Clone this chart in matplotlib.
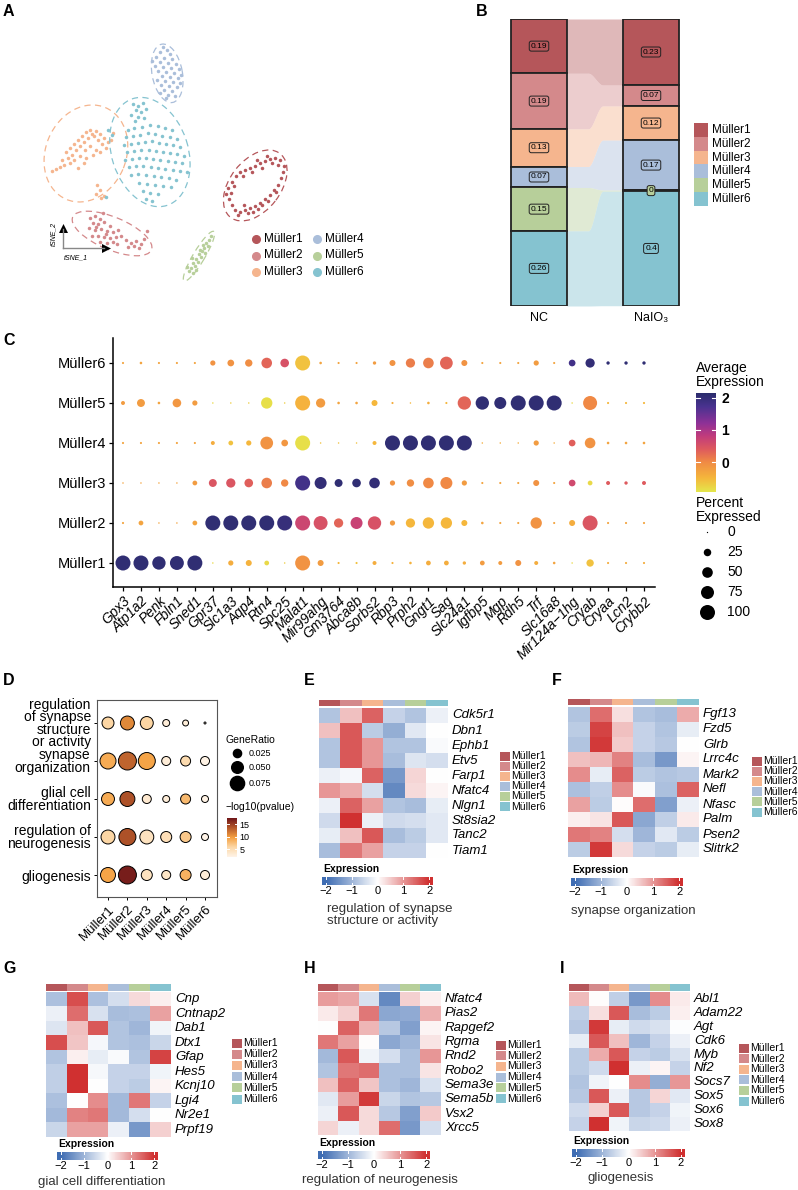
import numpy as np
import matplotlib
matplotlib.use('Agg')
import matplotlib.pyplot as plt
from matplotlib.colors import LinearSegmentedColormap, ListedColormap
from matplotlib.patches import Rectangle, Ellipse

plt.rcParams['font.family'] = ['Liberation Sans', 'DejaVu Sans']

# ---------------- data ----------------
groups = ['Müller1', 'Müller2', 'Müller3', 'Müller4', 'Müller5', 'Müller6']
group_colors = ['#B5565A', '#D4898B', '#F5B58E', '#AABEDA', '#B7CF9A', '#85C3D0']

# A: tSNE embedding (tSNE_1, tSNE_2 in picture units)
m1_pts = [(236,176),(240,172),(245,170),(250,168),(255,166),(260,163),(265,161),(270,159),(275,158),(280,160),
          (278,165),(272,163),(262,168),(252,172),(243,176),(232,182),(228,188),(226,194),(229,199),(232,205),
          (235,210),(240,212),(245,210),(250,208),(255,206),(260,203),(265,199),(270,195),(274,190),(278,185),
          (281,178),(283,172),(268,201),(258,209),(248,213),(238,215),(262,205),(276,192),(231,193),(284,166),
          (257,160),(267,156),(244,205),(253,212),(234,186)]
m2_pts = [(90,218),(95,216),(100,219),(93,223),(98,224),(104,222),(110,226),(89,228),(95,230),(101,229),
          (107,231),(113,232),(118,230),(92,236),(98,236),(104,237),(110,238),(116,237),(121,236),(100,242),
          (107,243),(113,242),(126,240),(131,243),(136,241),(141,244),(134,246),(128,247),(139,248),(144,239),
          (147,231),(103,213),(117,244),(96,227),(106,234)]
m3_pts = [(52,171),(56,169),(60,167),(64,165),(62,160),(68,158),(66,152),(72,155),(70,148),(76,150),
          (74,144),(80,146),(78,140),(84,142),(82,136),(88,138),(86,132),(92,134),(90,130),(96,131),
          (94,136),(100,134),(98,140),(104,138),(102,144),(108,142),(106,148),(111,140),(85,150),(90,146),
          (96,150),(74,160),(80,156),(86,158),(70,163),(78,168),(84,163),(93,155),(100,152),(113,133),
          (97,185),(100,190),(96,194),(101,198),(104,196)]
m4_pts = [(163,47),(167,50),(160,52),(170,54),(156,57),(164,58),(172,59),(152,61),(160,62),(168,63),
          (176,64),(155,66),(163,67),(171,68),(179,69),(158,71),(166,72),(174,73),(181,75),(162,76),
          (170,77),(178,78),(157,80),(165,81),(173,82),(180,83),(161,85),(169,86),(177,87),(164,90),
          (172,91),(160,93),(168,95),(175,96),(166,98)]
m5_pts = [(211,236),(209,240),(206,243),(208,246),(204,248),(202,251),(205,253),(199,254),(201,257),(196,259),
          (198,262),(193,263),(195,266),(191,268),(196,270),(189,271),(193,273),(200,250),(203,245),(192,258),
          (187,267)]
m6_pts = [(133,104),(138,106),(143,103),(136,110),(141,112),(146,109),(131,115),(138,117),(144,118),(135,121),
          (128,130),(134,128),(142,127),(150,125),(158,126),(165,128),(172,130),(126,137),(133,136),(140,135),
          (148,133),(155,134),(162,136),(170,137),(177,139),(124,145),(131,144),(138,143),(145,142),(152,141),
          (159,143),(166,144),(173,145),(180,147),(127,152),(134,151),(141,150),(149,150),(156,151),(163,152),
          (170,153),(177,154),(184,156),(125,160),(132,159),(139,158),(146,158),(153,159),(160,160),(168,161),
          (175,162),(182,163),(129,167),(136,166),(143,166),(151,167),(158,168),(165,169),(173,170),(180,171),
          (187,172),(131,175),(138,174),(146,175),(154,176),(161,177),(169,178),(176,180),(139,183),(147,184),
          (155,185),(163,186),(171,187),(143,191),(150,193),(158,194),(146,199),(152,201),(108,130),(112,135),
          (106,197)]
tsne_pts = [m1_pts, m2_pts, m3_pts, m4_pts, m5_pts, m6_pts]

# B: cell proportions
conditions = ['NC', 'NaIO₃']
prop_nc = [0.189, 0.194, 0.131, 0.073, 0.151, 0.262]
prop_naio3 = [0.230, 0.073, 0.119, 0.174, 0.004, 0.399]

# C: dot plot
dot_genes = ['Gpx3', 'Atp1a2', 'Penk', 'Fbln1', 'Sned1', 'Gpr37', 'Slc1a3', 'Aqp4', 'Rtn4', 'Spc25',
             'Malat1', 'Mir99ahg', 'Gm3764', 'Abca8b', 'Sorbs2', 'Rbp3', 'Prph2', 'Gngt1', 'Sag', 'Slc24a1',
             'Igfbp5', 'Mgp', 'Rdh5', 'Trf', 'Slc16a8', 'Mir124a−1hg', 'Cryab', 'Cryaa', 'Lcn2', 'Crybb2']
pct_expr = [
    [100, 100, 79, 86, 100, 1, 12, 16, 10, 1, 100, 16, 2, 2, 7, 2, 3, 10, 10, 5, 10, 7, 16, 7, 3, 1, 24, 2, 2, 2],
    [2, 10, 1, 1, 10, 100, 100, 100, 100, 100, 100, 86, 38, 64, 79, 12, 38, 57, 57, 16, 3, 2, 2, 57, 2, 16, 100, 2, 2, 2],
    [1, 1, 1, 1, 10, 28, 38, 33, 50, 24, 100, 64, 28, 33, 50, 12, 24, 50, 64, 12, 2, 2, 2, 16, 2, 20, 10, 7, 5, 7],
    [2, 2, 2, 2, 2, 7, 10, 12, 72, 20, 100, 1, 1, 1, 7, 100, 100, 100, 100, 100, 1, 1, 1, 12, 1, 20, 50, 3, 3, 3],
    [7, 28, 3, 33, 12, 1, 1, 1, 57, 1, 100, 38, 3, 3, 16, 2, 1, 3, 2, 79, 79, 64, 100, 100, 100, 1, 87, 2, 2, 2],
    [2, 3, 2, 2, 2, 12, 20, 24, 50, 33, 100, 3, 2, 2, 5, 16, 38, 50, 72, 16, 2, 2, 2, 12, 2, 20, 38, 5, 5, 5],
]
avg_expr = [
    [2.04, 2.04, 2.04, 2.04, 2.04, -0.8, -0.4, -0.45, -0.8, -0.7, -0.1, -0.2, -0.5, -0.6, -0.4,
     -0.45, -0.45, -0.4, -0.4, -0.4, -0.2, -0.2, -0.1, -0.4, -0.3, -0.8, -0.6, -0.4, -0.4, -0.4],
    [-0.3, -0.3, -0.3, -0.3, -0.3, 2.04, 2.04, 2.04, 2.04, 1.95, 0.65, 0.5, 0.3, 0.7, 0.5,
     -0.2, -0.5, -0.5, -0.5, -0.5, -0.3, -0.3, -0.3, -0.1, -0.3, -0.4, 0.45, -0.3, -0.3, -0.3],
    [-0.3, -0.3, -0.3, -0.3, -0.2, 0.45, 0.45, 0.35, 0.1, 0.0, 1.8, 2.0, 2.04, 2.04, 2.0,
     -0.1, -0.05, 0.0, 0.0, -0.2, -0.3, -0.3, -0.3, -0.1, -0.3, 0.6, -0.8, 0.4, 0.4, 0.4],
    [-0.3, -0.3, -0.3, -0.3, -0.3, -0.4, -0.6, -0.5, -0.1, -0.15, -0.85, -0.6, -0.6, -0.6, -0.5,
     2.04, 2.04, 2.04, 2.04, 2.04, -0.4, -0.4, -0.4, -0.2, -0.4, 0.35, -0.1, -0.3, -0.3, -0.3],
    [-0.2, -0.2, -0.3, -0.15, -0.2, -0.8, -0.7, -0.7, -0.85, -0.7, -0.45, -0.2, -0.3, -0.3, -0.5,
     -0.4, -0.5, -0.4, -0.5, 0.3, 2.04, 2.04, 2.04, 2.04, 2.04, -0.8, 0.0, -0.5, -0.5, -0.5],
    [-0.3, -0.3, -0.3, -0.3, -0.3, -0.1, -0.1, -0.05, 0.3, 0.5, -0.6, -0.3, -0.3, -0.3, -0.2,
     -0.1, 0.1, 0.1, 0.3, -0.1, -0.3, -0.3, -0.3, -0.2, -0.3, 1.8, 2.0, 2.04, 2.04, 2.04],
]
pct_breaks = [0, 25, 50, 75, 100]

# D: GO enrichment
go_terms = ['regulation\nof synapse\nstructure\nor activity', 'synapse\norganization',
            'glial cell\ndifferentiation', 'regulation of\nneurogenesis', 'gliogenesis']
gene_ratio = [
    [0.053, 0.072, 0.062, 0.018, 0.013, 0.0015],
    [0.095, 0.120, 0.107, 0.030, 0.037, 0.030],
    [0.062, 0.083, 0.030, 0.018, 0.037, 0.018],
    [0.072, 0.107, 0.072, 0.045, 0.045, 0.018],
    [0.083, 0.120, 0.045, 0.030, 0.045, 0.030],
]
neg_log_p = [
    [6, 11, 6, 3, 3, 2.5],
    [9, 13, 9.5, 3, 5.5, 2.2],
    [9, 14, 3.5, 3, 8, 2.2],
    [6, 14, 4.5, 5, 7, 2],
    [9.5, 17, 4.5, 4, 8.5, 3],
]
ratio_breaks = [0.025, 0.050, 0.075]

# E-I: scaled expression heatmaps
E_genes = ['Cdk5r1', 'Dbn1', 'Ephb1', 'Etv5', 'Farp1', 'Nfatc4', 'Nlgn1', 'St8sia2', 'Tanc2', 'Tiam1']
E_vals = [[-0.8, 0.6, 1.5, -0.6, -0.8, -0.2], [0.6, 1.6, -0.7, -1.1, -0.3, 0.0],
          [-0.8, 1.6, 1.0, -0.8, -0.8, -0.05], [-0.8, 1.6, 1.0, -0.9, -0.35, -0.45],
          [-0.2, -0.1, 1.5, -1.4, 0.4, 0.0], [1.0, 0.8, -0.45, -1.6, 0.35, 0.1],
          [-0.2, 1.5, 0.9, -0.8, -0.9, -0.25], [-0.5, 2.0, -0.2, -0.5, -0.45, -0.3],
          [-0.25, 0.6, 1.6, -0.9, -0.7, -0.3], [-0.9, 1.3, 0.9, -0.6, -0.6, 0.0]]
F_genes = ['Fgf13', 'Fzd5', 'Glrb', 'Lrrc4c', 'Mark2', 'Nefl', 'Nfasc', 'Palm', 'Psen2', 'Slitrk2']
F_vals = [[-0.8, 1.4, 0.3, -0.8, -0.9, 0.8], [-0.7, 1.8, 0.6, -0.6, -0.8, -0.25],
          [-0.8, 1.9, 0.5, -0.6, -0.75, 0.0], [0.6, 0.7, 1.2, -0.9, -1.4, 0.1],
          [1.1, -0.25, 1.5, -0.7, -0.8, -0.75], [-0.85, -0.65, 1.1, -0.05, -0.85, 1.5],
          [0.9, -0.7, 0.02, 1.4, -1.3, -0.2], [0.15, 0.25, 1.6, -1.2, -0.65, 0.2],
          [1.3, 1.2, -0.45, -1.0, -0.3, -0.7], [-0.7, 1.9, 0.35, -0.6, -0.7, -0.25]]
G_genes = ['Cnp', 'Cntnap2', 'Dab1', 'Dtx1', 'Gfap', 'Hes5', 'Kcnj10', 'Lgi4', 'Nr2e1', 'Prpf19']
G_vals = [[-0.85, 1.7, -0.85, -0.45, 0.35, 0.15], [-0.2, 1.4, -0.4, -0.9, -0.85, 0.9],
          [-0.35, 0.6, 1.6, -0.8, -1.0, -0.15], [1.7, 0.55, -0.1, -0.8, -0.85, -0.55],
          [-0.8, 0.15, -0.25, -0.05, -0.8, 1.8], [-0.65, 2.0, -0.08, -0.6, -0.6, -0.15],
          [-0.65, 2.0, 0.0, -0.6, -0.7, 0.1], [-0.85, 0.0, 1.1, -0.95, 1.3, -0.6],
          [-0.95, 1.2, 1.3, -0.95, -0.45, 0.0], [-0.55, 0.9, 0.9, -0.2, -1.4, 0.45]]
H_genes = ['Nfatc4', 'Pias2', 'Rapgef2', 'Rgma', 'Rnd2', 'Robo2', 'Sema3e', 'Sema5b', 'Vsx2', 'Xrcc5']
H_vals = [[0.95, 0.85, -0.4, -1.6, 0.45, 0.15], [0.2, 0.45, 1.3, -1.2, -1.15, 0.75],
          [0.0, 1.5, 0.7, -0.75, -1.3, 0.1], [1.3, 0.9, 0.02, -1.2, -1.0, 0.25],
          [-0.95, 1.6, -0.15, -0.45, -0.85, 1.0], [-0.8, 1.3, 1.4, -0.85, -0.85, 0.25],
          [0.6, 1.5, 0.55, -0.85, -1.0, -0.4], [-0.3, 0.95, 1.9, -0.55, -0.8, -0.75],
          [-0.2, 1.6, 0.35, -0.75, -1.3, 0.5], [0.4, -0.2, 0.35, 1.4, -1.4, -0.45]]
I_genes = ['Abl1', 'Adam22', 'Agt', 'Cdk6', 'Myb', 'Nf2', 'Socs7', 'Sox5', 'Sox6', 'Sox8']
I_vals = [[0.65, 0.02, -0.65, -1.4, 1.1, 0.2], [-0.65, 0.3, 1.6, -0.9, -0.7, 0.15],
          [-0.75, 1.9, -0.25, -0.5, -0.4, -0.03], [-0.25, 1.6, 0.6, -1.0, -0.6, -0.2],
          [-0.7, 0.8, 1.6, -0.6, -0.7, -0.4], [-0.7, -0.5, 2.0, -0.2, 0.1, -0.6],
          [-0.8, -0.15, 0.0, 1.1, -1.1, 1.0], [-0.75, 1.6, -0.2, -0.75, 0.4, -0.3],
          [-0.5, 0.45, 1.6, -0.75, -0.6, -0.15], [-0.6, 2.0, -0.15, -0.55, -0.5, -0.2]]
heat_breaks = [-2, -1, 0, 1, 2]

# ---------------- figure helpers ----------------
W, H = 798, 1190
fig = plt.figure(figsize=(W / 100, H / 100), dpi=100)


def px_axes(x0, y0, x1, y1):
    return fig.add_axes([x0 / W, 1 - y1 / H, (x1 - x0) / W, (y1 - y0) / H])


def ftext(x, y, s, **kw):
    return fig.text(x / W, 1 - y / H, s, **kw)


def frect(x, y, w, h, color, **kw):
    fig.add_artist(Rectangle((x / W, 1 - (y + h) / H), w / W, h / H,
                             transform=fig.transFigure, facecolor=color, **kw))


def size_px(d):
    return (np.asarray(d, dtype=float) * 0.72) ** 2


def panel_label(x, y, s):
    ftext(x, y, s, fontsize=11.5, fontweight='bold', va='top', ha='left')


# ---------------- A: tSNE ----------------
axA = px_axes(30, 20, 300, 290)
for k, pts in enumerate(tsne_pts):
    p = np.array(pts, dtype=float)
    axA.scatter(p[:, 0], p[:, 1], s=size_px(3.5), color=group_colors[k], lw=0)
    mu = p.mean(0)
    cov = np.cov(p.T)
    vals, vecs = np.linalg.eigh(cov)
    inv = np.linalg.inv(cov)
    dm = np.sqrt(np.einsum('ij,jk,ik->i', p - mu, inv, p - mu))
    r = np.percentile(dm, 95) * 1.1
    ang = np.degrees(np.arctan2(vecs[1, 1], vecs[0, 1]))
    axA.add_patch(Ellipse(mu, 2 * r * np.sqrt(vals[1]), 2 * r * np.sqrt(vals[0]), angle=ang,
                          fill=False, ec=group_colors[k], lw=0.9, ls=(0, (5, 3.5))))
axA.set_xlim(30, 300)
axA.set_ylim(290, 20)
axA.axis('off')
# tSNE axis arrows
axA.plot([63, 63], [248, 229], color='#888888', lw=1)
axA.plot([63, 104], [248, 248], color='#888888', lw=1)
axA.scatter([63], [228], marker='^', s=size_px(9), color='black', lw=0)
axA.scatter([106], [248], marker='>', s=size_px(9), color='black', lw=0)
axA.text(57, 246, 'tSNE_2', rotation=90, fontsize=5, fontstyle='italic', ha='right', va='bottom')
axA.text(64, 254, 'tSNE_1', fontsize=5, fontstyle='italic', ha='left', va='top')
for k, g in enumerate(groups):
    cx = 256 if k < 3 else 317
    cy = 239 + 16.5 * (k % 3)
    fig.add_artist(plt.Line2D([cx / W], [1 - cy / H], marker='o', ms=5.5, color=group_colors[k],
                              ls='none', transform=fig.transFigure))
    ftext(cx + 8, cy, g, fontsize=8.5, va='center', ha='left')
panel_label(3, 4, 'A')

# ---------------- B: proportions ----------------
axB = px_axes(505, 19, 685, 306)
bw = 0.5
xs = np.linspace(1 + bw / 2, 2 - bw / 2, 200)
t = np.clip((xs - 1.44) / 0.13, 0, 1)
s_curve = t * t * (3 - 2 * t)
topL = 1 - np.concatenate([[0], np.cumsum(prop_nc)])
topR = 1 - np.concatenate([[0], np.cumsum(prop_naio3)])
for k in range(6):
    up = topL[k] + (topR[k] - topL[k]) * s_curve
    lo = topL[k + 1] + (topR[k + 1] - topL[k + 1]) * s_curve
    axB.fill_between(xs, lo, up, color=group_colors[k], alpha=0.42, lw=0)
for xi, props, tops in [(1, prop_nc, topL), (2, prop_naio3, topR)]:
    for k in range(6):
        axB.add_patch(Rectangle((xi - bw / 2, tops[k + 1]), bw, props[k], facecolor=group_colors[k],
                                edgecolor='#222222', lw=1.3))
    for k in range(6):
        lab = f"{round(props[k], 2):g}"
        axB.text(xi, (tops[k] + tops[k + 1]) / 2, lab, fontsize=6, ha='center', va='center',
                 bbox=dict(boxstyle='round,pad=0.18,rounding_size=0.25', fc=group_colors[k], ec='#222222', lw=0.7))
axB.set_xlim(1 - 34 / 112, 2 + 34 / 112)
axB.set_ylim(0, 1)
axB.axis('off')
for xi, c in zip([539, 651], conditions):
    ftext(xi, 318, c, fontsize=9, ha='center', va='center')
for k, g in enumerate(groups):
    frect(694, 123 + 13.8 * k, 14, 13.8, group_colors[k], lw=0)
    ftext(712, 123 + 13.8 * k + 7, g, fontsize=8.5, va='center', ha='left')
panel_label(476, 4, 'B')

# ---------------- C: dot plot ----------------
dot_cmap = LinearSegmentedColormap.from_list('dot', [
    (0.0, '#E4E74C'), (0.14, '#F5B63C'), (0.30, '#F08A45'), (0.43, '#DE5A5E'),
    (0.56, '#C13C7C'), (0.69, '#8E3197'), (0.854, '#4A3390'), (1.0, '#282C6A')])
vmin_c, vmax_c = -0.93, 2.15
axC = px_axes(113, 338, 655, 587)
pct = np.array(pct_expr, dtype=float)
av = np.array(avg_expr, dtype=float)
for i in range(6):
    d = np.maximum(15 * np.sqrt(pct[i] / 100), 1.3)
    axC.scatter(np.arange(1, 31), np.full(30, i + 1), s=size_px(d), c=av[i], cmap=dot_cmap,
                vmin=vmin_c, vmax=vmax_c, lw=0)
axC.set_xlim(1 - 10 / 17.966, 30 + 11 / 17.966)
axC.set_ylim(1 - 24 / 40, 6 + 25 / 40)
axC.set_xticks(np.arange(1, 31))
axC.set_xticklabels(dot_genes, rotation=45, ha='right', rotation_mode='anchor', fontsize=10, fontstyle='italic')
axC.set_yticks(np.arange(1, 7))
axC.set_yticklabels(groups, fontsize=10.5)
for sp in ['top', 'right']:
    axC.spines[sp].set_visible(False)
for sp in ['left', 'bottom']:
    axC.spines[sp].set_linewidth(1.1)
axC.tick_params(length=3, width=0.9, pad=2)
panel_label(3, 333, 'C')
# colour legend
ftext(696, 375, 'Average\nExpression', fontsize=10, va='center', ha='left', linespacing=0.95)
cbC = px_axes(696, 393, 716, 492)
cbC.imshow(np.linspace(vmin_c, vmax_c, 256)[:, None], cmap=dot_cmap, aspect='auto', origin='lower',
           extent=[0, 1, vmin_c, vmax_c], vmin=vmin_c, vmax=vmax_c)
for v in [0, 1, 2]:
    cbC.plot([0, 0.2], [v, v], color='white', lw=0.8)
    cbC.plot([0.8, 1], [v, v], color='white', lw=0.8)
cbC.set_xlim(0, 1)
cbC.set_ylim(vmin_c, vmax_c)
cbC.set_xticks([])
cbC.yaxis.tick_right()
cbC.set_yticks([0, 1, 2])
cbC.set_yticklabels(['0', '1', '2'], fontsize=10, fontweight='bold')
cbC.tick_params(length=0, pad=4)
for sp in cbC.spines.values():
    sp.set_visible(False)
ftext(696, 510, 'Percent\nExpressed', fontsize=10, va='center', ha='left', linespacing=0.95)
for k, b in enumerate(pct_breaks):
    yy = 532 + 20 * k
    d = max(15 * np.sqrt(b / 100), 1.3)
    fig.add_artist(plt.Line2D([707 / W], [1 - yy / H], marker='o', ms=d * 0.72, color='black', ls='none',
                              mec='none', transform=fig.transFigure))
    ftext(727, yy, str(b), fontsize=10, va='center', ha='left')

# ---------------- D: GO dot plot ----------------
go_cmap = LinearSegmentedColormap.from_list('go', ['#FFF4E8', '#FCD8A8', '#F5A040', '#B5582A', '#6E1519'])
vmin_d, vmax_d = 2, 17.5
axD = px_axes(97, 700, 217, 897)
gr = np.array(gene_ratio)
lp = np.array(neg_log_p)
for r in range(5):
    d = np.maximum(52 * np.sqrt(gr[r]), 2)
    axD.scatter(np.arange(1, 7), np.full(6, 5 - r), s=size_px(d), c=lp[r], cmap=go_cmap,
                vmin=vmin_d, vmax=vmax_d, edgecolors='black', linewidths=0.7, zorder=3)
axD.set_xlim(1 - 11 / 19.4, 6 + 12 / 19.4)
axD.set_ylim(1 - 22 / 38, 5 + 23 / 38)
axD.set_yticks([5, 4, 3, 2, 1])
axD.set_yticklabels(go_terms, fontsize=10, linespacing=0.85)
axD.set_xticks(np.arange(1, 7))
axD.set_xticklabels(groups, rotation=45, ha='right', rotation_mode='anchor', fontsize=9.5)
for sp in axD.spines.values():
    sp.set_color('#555555')
    sp.set_linewidth(0.8)
axD.tick_params(length=2.5, width=0.7, pad=2)
panel_label(3, 673, 'D')
ftext(226, 740, 'GeneRatio', fontsize=7.5, va='center', ha='left')
for k, b in enumerate(ratio_breaks):
    yy = [753, 767, 783][k]
    fig.add_artist(plt.Line2D([237 / W], [1 - yy / H], marker='o', ms=52 * np.sqrt(b) * 0.72, color='black',
                              ls='none', transform=fig.transFigure))
    ftext(249, yy, f"{b:.3f}", fontsize=6.5, va='center', ha='left')
ftext(226, 807, '−log10(pvalue)', fontsize=7.5, va='center', ha='left')
cbD = px_axes(227, 818, 237, 857)
cbD.imshow(np.linspace(vmin_d, vmax_d, 256)[:, None], cmap=go_cmap, aspect='auto', origin='lower',
           extent=[0, 1, vmin_d, vmax_d], vmin=vmin_d, vmax=vmax_d)
for v in [5, 10, 15]:
    cbD.plot([0, 0.2], [v, v], color='white', lw=0.7)
    cbD.plot([0.8, 1], [v, v], color='white', lw=0.7)
cbD.set_xlim(0, 1)
cbD.set_ylim(vmin_d, vmax_d)
cbD.set_xticks([])
cbD.yaxis.tick_right()
cbD.set_yticks([5, 10, 15])
cbD.set_yticklabels(['5', '10', '15'], fontsize=6.5)
cbD.tick_params(length=0, pad=2)
for sp in cbD.spines.values():
    sp.set_visible(False)

# ---------------- E-I: heatmaps ----------------
heat_cmap = LinearSegmentedColormap.from_list('heat', ['#3F6DB3', '#FFFFFF', '#D03030'])


def heatmap(label, lab_xy, x0, x1, ytop, row_h, vals, genes, leg_x, leg_y, leg_dy,
            cb_x0, cb_x1, cb_y, title, title_x, title_y):
    ann = px_axes(x0, ytop - 8, x1, ytop - 1.5)
    ann.imshow(np.arange(6)[None, :], cmap=ListedColormap(group_colors), aspect='auto', interpolation='nearest')
    ann.axis('off')
    hm = px_axes(x0, ytop, x1, ytop + 10 * row_h)
    hm.imshow(np.array(vals), cmap=heat_cmap, vmin=-2, vmax=2, aspect='auto', interpolation='nearest')
    hm.axis('off')
    for i, g in enumerate(genes):
        ftext(x1 + 4, ytop + (i + 0.5) * row_h, g, fontsize=9.5, fontstyle='italic', va='center', ha='left')
    for k, g in enumerate(groups):
        yy = leg_y + k * leg_dy
        frect(leg_x, yy - 4.5, 10, 9, group_colors[k], lw=0)
        ftext(leg_x + 11, yy, g, fontsize=7.5, va='center', ha='left')
    ftext(cb_x0 + 1, cb_y - 8, 'Expression', fontsize=7.5, fontweight='bold', va='center', ha='left')
    cb = px_axes(cb_x0, cb_y, cb_x1, cb_y + 8)
    cb.imshow(np.linspace(-2.15, 2.15, 256)[None, :], cmap=heat_cmap, vmin=-2, vmax=2, aspect='auto',
              extent=[-2.15, 2.15, 0, 1])
    for v in heat_breaks:
        cb.plot([v, v], [0, 0.22], color='white', lw=0.7)
        cb.plot([v, v], [0.78, 1], color='white', lw=0.7)
    cb.set_xlim(-2.15, 2.15)
    cb.set_ylim(0, 1)
    cb.set_yticks([])
    cb.set_xticks(heat_breaks)
    cb.set_xticklabels([f"{v}".replace('-', '−') for v in heat_breaks], fontsize=8)
    cb.tick_params(length=0, pad=1)
    for sp in cb.spines.values():
        sp.set_visible(False)
    ftext(title_x, title_y, title, fontsize=9.5, va='center', ha='left', color='#333333', linespacing=1.05)
    panel_label(lab_xy[0], lab_xy[1], label)


heatmap('E', (304, 673), 319, 448, 708, 15, E_vals, E_genes, 500, 756, 10.1,
        322, 433, 877, 'regulation of synapse\nstructure or activity', 327, 915)
heatmap('F', (552, 673), 568, 699, 707, 15, F_vals, F_genes, 752, 761, 10.2,
        571, 683, 878, 'synapse organization', 571, 911)
heatmap('G', (3, 961), 46, 171, 992, 14.5, G_vals, G_genes, 232, 1043, 11.2,
        57, 158, 1152, 'gial cell differentiation', 38, 1182)
heatmap('H', (304, 961), 318, 441, 992, 14.3, H_vals, H_genes, 496, 1045, 10.7,
        318, 430, 1151, 'regulation of neurogenesis', 302, 1180)
heatmap('I', (560, 961), 569, 690, 992, 13.9, I_vals, I_genes, 739, 1048, 10.6,
        572, 685, 1149, 'gliogenesis', 588, 1178)

fig.savefig('out.png', dpi=100)
